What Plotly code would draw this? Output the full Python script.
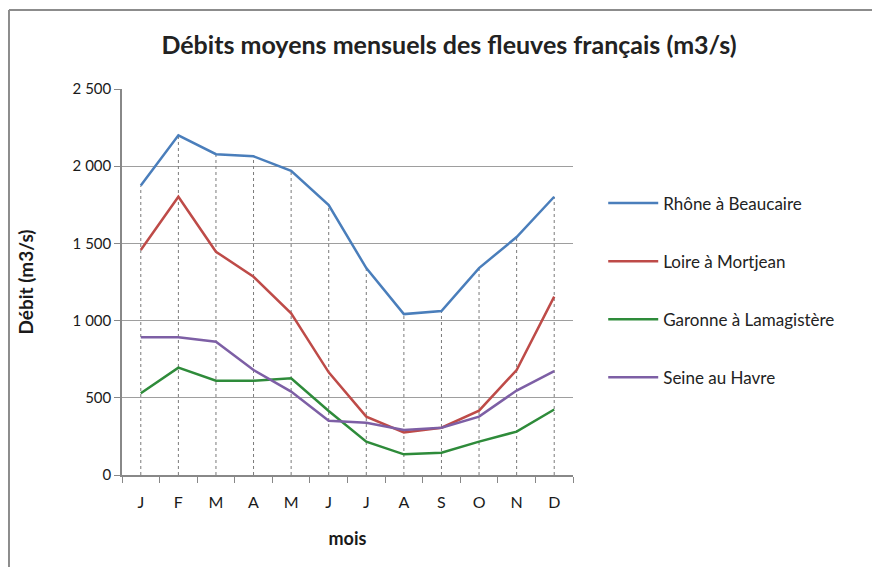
import plotly.graph_objects as go

months = ["J", "F", "M", "A", "M ", "J ", "J  ", "A ", "S", "O", "N", "D"]
month_labels = ["J", "F", "M", "A", "M", "J", "J", "A", "S", "O", "N", "D"]

rhone = [1875, 2200, 2078, 2064, 1970, 1748, 1340, 1042, 1062, 1340, 1541, 1802]
loire = [1457, 1802, 1446, 1284, 1047, 665, 378, 276, 306, 417, 680, 1155]
garonne = [530, 695, 611, 611, 626, 415, 216, 134, 144, 216, 281, 424]
seine = [892, 892, 863, 680, 540, 352, 339, 291, 306, 378, 547, 673]

series_names = ["Rhône à Beaucaire", "Loire à Mortjean", "Garonne à Lamagistère", "Seine au Havre"]
series_values = [rhone, loire, garonne, seine]
series_colors = ["#4A7EBB", "#BE4B48", "#2E8B3A", "#7D5FA5"]

font_family = "Lato, 'Open Sans', sans-serif"

fig = go.Figure()

# drop lines (from axis to highest value at each month)
drop_x, drop_y = [], []
for i, m in enumerate(months):
    top = max(s[i] for s in series_values)
    drop_x += [m, m, None]
    drop_y += [0, top, None]
fig.add_trace(go.Scatter(x=drop_x, y=drop_y, mode="lines",
                         line=dict(color="#7a7a7a", width=1, dash="dot"),
                         showlegend=False, hoverinfo="skip"))

for i, (name, vals, col) in enumerate(zip(series_names, series_values, series_colors)):
    fig.add_trace(go.Scatter(x=months, y=vals, mode="lines", name=name,
                             legendgroup=f"g{i}",
                             line=dict(color=col, width=2.5)))

border = dict(color="#8c8c8c", width=2)
fig.update_layout(
    width=865, height=559,
    paper_bgcolor="white", plot_bgcolor="white",
    margin=dict(l=114, r=300, t=81, b=92),
    separators=", ",
    font=dict(family=font_family, color="#1a1a1a", size=15),
    title=dict(text="<b>Débits moyens mensuels des fleuves français (m3/s)</b>",
               x=441 / 865, xanchor="center", y=1 - 37 / 559, yanchor="middle",
               font=dict(size=25, family=font_family, color="#222")),
    showlegend=True,
    legend=dict(x=1.067, xanchor="left", y=0.75, yanchor="top",
                xref="paper", yref="paper",
                font=dict(size=17, family=font_family, color="#222"),
                tracegroupgap=33, bgcolor="rgba(0,0,0,0)",
                itemwidth=50),
    shapes=[
        dict(type="line", xref="paper", yref="paper",
             x0=-0.2506, x1=(864 - 114) / 451, y0=1.2047, y1=1.2047, line=border),
        dict(type="line", xref="paper", yref="paper",
             x0=-0.2506, x1=-0.2506, y0=-0.25, y1=1.2047, line=border),
    ],
)

fig.update_xaxes(
    type="category", categoryorder="array", categoryarray=months,
    tickmode="array", tickvals=months, ticktext=month_labels,
    tickson="boundaries", ticks="outside", ticklen=6, tickcolor="#888",
    showline=True, linecolor="#888", linewidth=1.5, showgrid=False,
    tickfont=dict(size=16), range=[-0.5, 11.5], ticklabelstandoff=12,
    title=dict(text="<b>mois</b>", font=dict(size=18), standoff=22),
)
fig.update_yaxes(
    range=[0, 2500], tickvals=[0, 500, 1000, 1500, 2000, 2500], tickformat=",d",
    showgrid=True, gridcolor="#9e9e9e", gridwidth=1,
    showline=True, linecolor="#888", linewidth=1.5,
    ticks="outside", ticklen=6, tickcolor="#888",
    tickfont=dict(size=15), zeroline=False,
    title=dict(text="<b>Débit (m3/s)</b>", font=dict(size=19), standoff=34),
)

fig.write_html("out.html")
